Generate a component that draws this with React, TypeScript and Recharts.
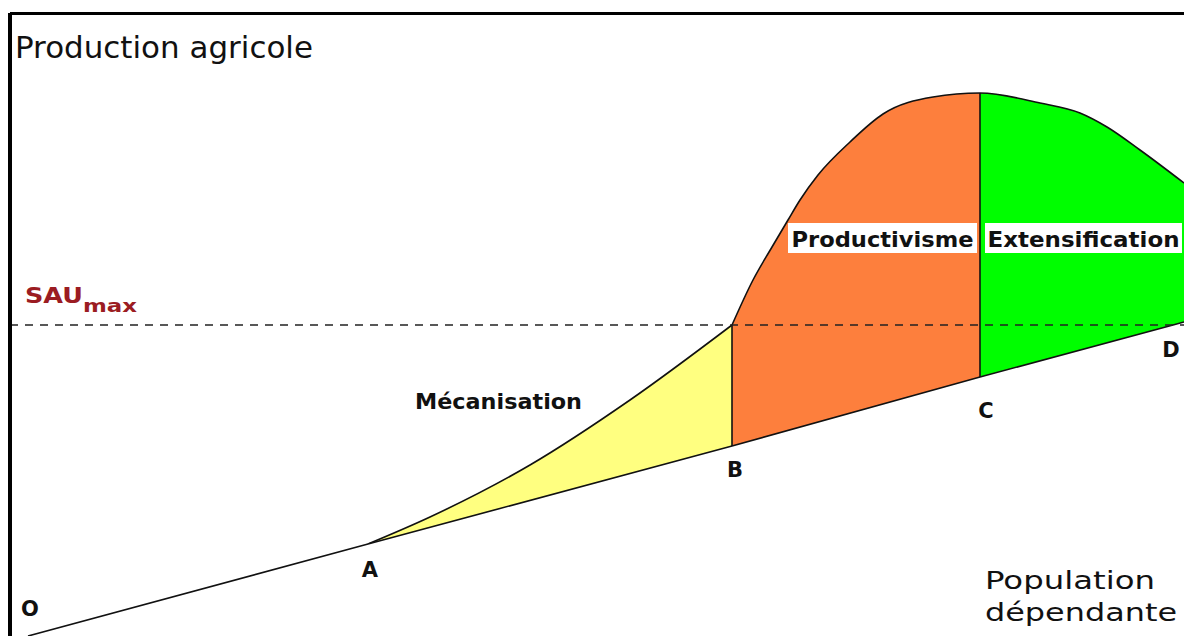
import React from 'react';
import { ComposedChart, Area, XAxis, YAxis, ReferenceLine, ReferenceDot } from 'recharts';

// Base line O-A-B-C-D (population dépendante vs production without intensification)
const baselineX = [1.8, 35.8, 72.2, 97.0, 116.3, 117.4];
const baselineY = [0, 9.2, 19.0, 25.9, 31.1, 31.4];
const pointNames = ['O', 'A', 'B', 'C', 'D'];

// Mécanisation curve (A -> top of B)
const mecaX = [35.8, 42.0, 52.0, 62.0, 72.2];
const mecaY = [9.2, 11.9, 17.1, 23.6, 31.1];

// Productivisme / Extensification curve (top of B -> right edge)
const prodX = [72.2, 74.3, 76.2, 77.8, 79.0, 80.8, 84.0, 87.3, 92.3, 97.0, 103.0, 107.0, 109.7, 113.0, 117.4];
const prodY = [31.1, 35.6, 38.9, 41.6, 43.6, 46.1, 49.4, 52.2, 53.9, 54.3, 53.3, 52.3, 50.9, 48.6, 45.3];

const sauMax = 31.1;
const xDomain = [0, 117.4];
const yDomain = [0, 62.3];

const phaseLabels = ['Mécanisation', 'Productivisme', 'Extensification'];
const axisTitles = ['Production agricole', 'Population', 'dépendante'];

type Row = { x: number; base?: number; meca?: number; prod?: number };

function buildRows(): Row[] {
  const map = new Map<number, Row>();
  const put = (xs: number[], ys: number[], key: 'base' | 'meca' | 'prod') => {
    xs.forEach((x, i) => {
      const r: Row = map.get(x) ?? { x };
      r[key] = ys[i];
      map.set(x, r);
    });
  };
  put(prodX, prodY, 'prod');
  put(mecaX, mecaY, 'meca');
  put(baselineX, baselineY, 'base');
  return Array.from(map.values()).sort((a, b) => a.x - b.x);
}

const rows = buildRows();

const FONT = '"DejaVu Sans", Verdana, sans-serif';
const ORANGE = '#FD7F3D';
const GREEN = '#00FE00';
const YELLOW = '#FFFF80';
const DARKRED = '#9B1C22';

// fraction of the Productivisme area's width where C lies
const cIndex = 3;
const cFrac = (baselineX[cIndex] - prodX[0]) / (prodX[prodX.length - 1] - prodX[0]);

type TagOpts = {
  dx?: number;
  dy?: number;
  size: number;
  bold?: boolean;
  anchor?: 'start' | 'middle' | 'end';
  fill?: string;
  len?: number;
  box?: { w: number; h: number; top: number };
};

const makeTag = (text: string, o: TagOpts) => (props: any) => {
  const vb = props.viewBox || {};
  const x = (vb.x ?? 0) + (vb.width ?? 0) / 2 + (o.dx ?? 0);
  const y = (vb.y ?? 0) + (vb.height ?? 0) / 2 + (o.dy ?? 0);
  const t = (
    <text
      x={x}
      y={y}
      textAnchor={o.anchor ?? 'middle'}
      fontFamily={FONT}
      fontSize={o.size}
      fontWeight={o.bold ? 'bold' : 'normal'}
      fill={o.fill ?? '#111'}
      textLength={o.len}
      lengthAdjust={o.len ? 'spacingAndGlyphs' : undefined}
    >
      {text}
    </text>
  );
  if (o.box) {
    return (
      <g>
        <rect x={x - o.box.w / 2} y={y + o.box.top} width={o.box.w} height={o.box.h} fill="#fff" />
        {t}
      </g>
    );
  }
  return t;
};

const pointLabelOffsets = [
  { dx: 2, dy: -20 },
  { dx: 2, dy: 33 },
  { dx: 3, dy: 31 },
  { dx: 6, dy: 41 },
  { dx: -2, dy: 32 },
];

export default function App() {
  return (
    <div style={{ position: 'absolute', left: 0, top: 0, width: 1184, height: 636, background: '#fff' }}>
      <ComposedChart width={1184} height={636} data={rows} margin={{ top: 13, right: 0, bottom: 0, left: 10 }}>
        <defs>
          <linearGradient id="prodGrad" x1="0" y1="0" x2="1" y2="0">
            <stop offset={0} stopColor={ORANGE} />
            <stop offset={cFrac} stopColor={ORANGE} />
            <stop offset={cFrac} stopColor={GREEN} />
            <stop offset={1} stopColor={GREEN} />
          </linearGradient>
        </defs>
        <XAxis dataKey="x" type="number" domain={xDomain} allowDataOverflow hide />
        <YAxis type="number" domain={yDomain} allowDataOverflow hide />

        <Area
          dataKey="meca"
          type="monotone"
          connectNulls
          fill={YELLOW}
          fillOpacity={1}
          stroke="#111"
          strokeWidth={1.6}
          dot={false}
          activeDot={false}
          isAnimationActive={false}
        />
        <Area
          dataKey="prod"
          type="monotone"
          connectNulls
          fill="url(#prodGrad)"
          fillOpacity={1}
          stroke="#111"
          strokeWidth={1.6}
          dot={false}
          activeDot={false}
          isAnimationActive={false}
        />
        <Area
          dataKey="base"
          type="linear"
          connectNulls
          fill="#fff"
          fillOpacity={1}
          stroke="#111"
          strokeWidth={1.6}
          dot={false}
          activeDot={false}
          isAnimationActive={false}
        />

        <ReferenceLine
          segment={[{ x: baselineX[2], y: baselineY[2] }, { x: baselineX[2], y: mecaY[mecaY.length - 1] }]}
          stroke="#111"
          strokeWidth={1.6}
          ifOverflow="visible"
        />
        <ReferenceLine
          segment={[{ x: baselineX[3], y: baselineY[3] }, { x: baselineX[3], y: prodY[9] }]}
          stroke="#111"
          strokeWidth={1.6}
          ifOverflow="visible"
        />
        <ReferenceLine y={sauMax} stroke="#222" strokeWidth={1.6} strokeDasharray="8 7" ifOverflow="visible" />
        <ReferenceLine x={xDomain[0]} stroke="#000" strokeWidth={4} ifOverflow="visible" />
        <ReferenceLine y={62.25} stroke="#000" strokeWidth={3} ifOverflow="visible" />

        {pointNames.map((n, i) => (
          <ReferenceDot
            key={n}
            x={baselineX[i]}
            y={baselineY[i]}
            r={0}
            fill="none"
            stroke="none"
            ifOverflow="visible"
            label={makeTag(n, { ...pointLabelOffsets[i], size: 21, bold: true })}
          />
        ))}

        <ReferenceDot
          x={0}
          y={sauMax}
          r={0}
          fill="none"
          stroke="none"
          ifOverflow="visible"
          label={makeTag('SAU', { dx: 15, dy: -22, size: 21, bold: true, anchor: 'start', fill: DARKRED, len: 58 })}
        />
        <ReferenceDot
          x={0}
          y={sauMax}
          r={0}
          fill="none"
          stroke="none"
          ifOverflow="visible"
          label={makeTag('max', { dx: 73, dy: -13, size: 18, bold: true, anchor: 'start', fill: DARKRED, len: 54 })}
        />

        <ReferenceDot
          x={48.85}
          y={22.7}
          r={0}
          fill="none"
          stroke="none"
          ifOverflow="visible"
          label={makeTag(phaseLabels[0], { size: 21, bold: true, len: 167 })}
        />
        <ReferenceDot
          x={87.25}
          y={39.8}
          r={0}
          fill="none"
          stroke="none"
          ifOverflow="visible"
          label={makeTag(phaseLabels[1], { dy: 9, size: 21, bold: true, len: 182, box: { w: 189, h: 30, top: -24 } })}
        />
        <ReferenceDot
          x={107.35}
          y={39.8}
          r={0}
          fill="none"
          stroke="none"
          ifOverflow="visible"
          label={makeTag(phaseLabels[2], { dy: 9, size: 21, bold: true, len: 192, box: { w: 197, h: 30, top: -24 } })}
        />

        <ReferenceDot
          x={0.5}
          y={57.8}
          r={0}
          fill="none"
          stroke="none"
          ifOverflow="visible"
          label={makeTag(axisTitles[0], { size: 30, anchor: 'start', len: 298 })}
        />
        <ReferenceDot
          x={97.5}
          y={4.7}
          r={0}
          fill="none"
          stroke="none"
          ifOverflow="visible"
          label={makeTag(axisTitles[1], { size: 25, anchor: 'start', len: 170 })}
        />
        <ReferenceDot
          x={97.5}
          y={1.5}
          r={0}
          fill="none"
          stroke="none"
          ifOverflow="visible"
          label={makeTag(axisTitles[2], { size: 25, anchor: 'start', len: 192 })}
        />
      </ComposedChart>
    </div>
  );
}
